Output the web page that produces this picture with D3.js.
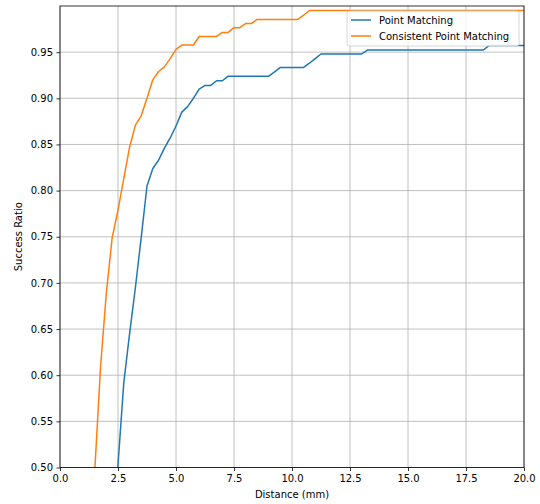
<!DOCTYPE html>
<html><head><meta charset="utf-8">
<script src="https://cdn.jsdelivr.net/npm/d3@7"></script>
<style>body{margin:0;background:#fff}svg{display:block}text{font-family:"DejaVu Sans",sans-serif}</style>
</head><body>
<script>
const seriesNames = ["Point Matching", "Consistent Point Matching"];
const colors = ["#1f77b4", "#ff7f0e"];
const pmX = [2.25,2.5,2.75,3.0,3.25,3.5,3.75,4.0,4.25,4.5,4.75,5.0,5.25,5.5,5.75,6.0,6.25,6.5,6.75,7.0,7.25,9.0,9.25,9.5,10.5,10.75,11.0,11.25,13.0,13.25,18.25,18.5,20.0];
const pmY = [0.40,0.503,0.592,0.645,0.695,0.749,0.805,0.824,0.833,0.846,0.857,0.870,0.885,0.891,0.900,0.910,0.914,0.914,0.919,0.919,0.924,0.924,0.9287,0.9334,0.9334,0.938,0.943,0.948,0.948,0.9523,0.9523,0.9573,0.9573];
const cpmX = [1.25,1.5,1.75,2.0,2.25,2.5,2.75,3.0,3.25,3.5,3.75,4.0,4.25,4.5,4.75,5.0,5.25,5.5,5.75,6.0,6.25,6.5,6.75,7.0,7.25,7.5,7.75,8.0,8.25,8.5,10.25,10.5,10.75,20.0];
const cpmY = [0.39,0.497,0.61,0.69,0.749,0.779,0.813,0.847,0.871,0.881,0.900,0.920,0.929,0.934,0.943,0.953,0.9577,0.9577,0.9577,0.967,0.967,0.967,0.967,0.9714,0.9714,0.9765,0.9765,0.981,0.981,0.9855,0.9855,0.990,0.9951,0.9951];
const xTicks = [0,2.5,5,7.5,10,12.5,15,17.5,20];
const yTicks = [0.50,0.55,0.60,0.65,0.70,0.75,0.80,0.85,0.90,0.95];

const W=540,H=504, L=60, R=524, T=6, B=467.5;
const svg=d3.select("body").append("svg").attr("width",W).attr("height",H);
const x=d3.scaleLinear().domain([0,20]).range([L,R]);
const y=d3.scaleLinear().domain([0.5,1.0]).range([B,T]);

// grid
const g=svg.append("g");
g.selectAll(".gx").data(xTicks).join("line").attr("x1",d=>x(d)).attr("x2",d=>x(d)).attr("y1",T).attr("y2",B).attr("stroke","#b0b0b0").attr("stroke-width",0.8);
g.selectAll(".gy").data(yTicks).join("line").attr("y1",d=>y(d)).attr("y2",d=>y(d)).attr("x1",L).attr("x2",R).attr("stroke","#b0b0b0").attr("stroke-width",0.8);

svg.append("clipPath").attr("id","clip").append("rect").attr("x",L).attr("y",T).attr("width",R-L).attr("height",B-T);
const line=d3.line().x(d=>x(d[0])).y(d=>y(d[1]));
const data=[d3.zip(pmX,pmY), d3.zip(cpmX,cpmY)];
svg.append("g").attr("clip-path","url(#clip)").selectAll("path").data(data).join("path")
  .attr("d",line).attr("fill","none").attr("stroke",(d,i)=>colors[i]).attr("stroke-width",1.5).attr("stroke-linejoin","round");

// axes
const xa=svg.append("g").attr("transform",`translate(0,${B})`).call(d3.axisBottom(x).tickValues(xTicks).tickFormat(d3.format(".1f")).tickSize(3.5).tickPadding(3.5));
const ya=svg.append("g").attr("transform",`translate(${L},0)`).call(d3.axisLeft(y).tickValues(yTicks).tickFormat(d3.format(".2f")).tickSize(3.5).tickPadding(3.5));
[xa,ya].forEach(a=>{a.select(".domain").remove();a.selectAll("text").attr("font-size",10).attr("fill","#000").attr("font-family","DejaVu Sans");a.selectAll("line").attr("stroke","#000").attr("stroke-width",0.8);});
svg.append("rect").attr("x",L).attr("y",T).attr("width",R-L).attr("height",B-T).attr("fill","none").attr("stroke","#000").attr("stroke-width",0.8);

svg.append("text").attr("x",(L+R)/2).attr("y",498).attr("text-anchor","middle").attr("font-size",10).text("Distance (mm)");
svg.append("text").attr("transform",`translate(22,${(T+B)/2}) rotate(-90)`).attr("text-anchor","middle").attr("font-size",10).text("Success Ratio");

// legend
const lg=svg.append("g");
lg.append("rect").attr("x",347).attr("y",11).attr("width",172).attr("height",35).attr("rx",2.5).attr("fill","#fff").attr("fill-opacity",0.8).attr("stroke","#cccccc").attr("stroke-width",0.8);
seriesNames.forEach((n,i)=>{
  const yy=20+i*16;
  lg.append("line").attr("x1",351).attr("x2",371).attr("y1",yy).attr("y2",yy).attr("stroke",colors[i]).attr("stroke-width",1.5);
  lg.append("text").attr("x",379).attr("y",yy+3.5).attr("font-size",10).text(n);
});
</script>
</body></html>
